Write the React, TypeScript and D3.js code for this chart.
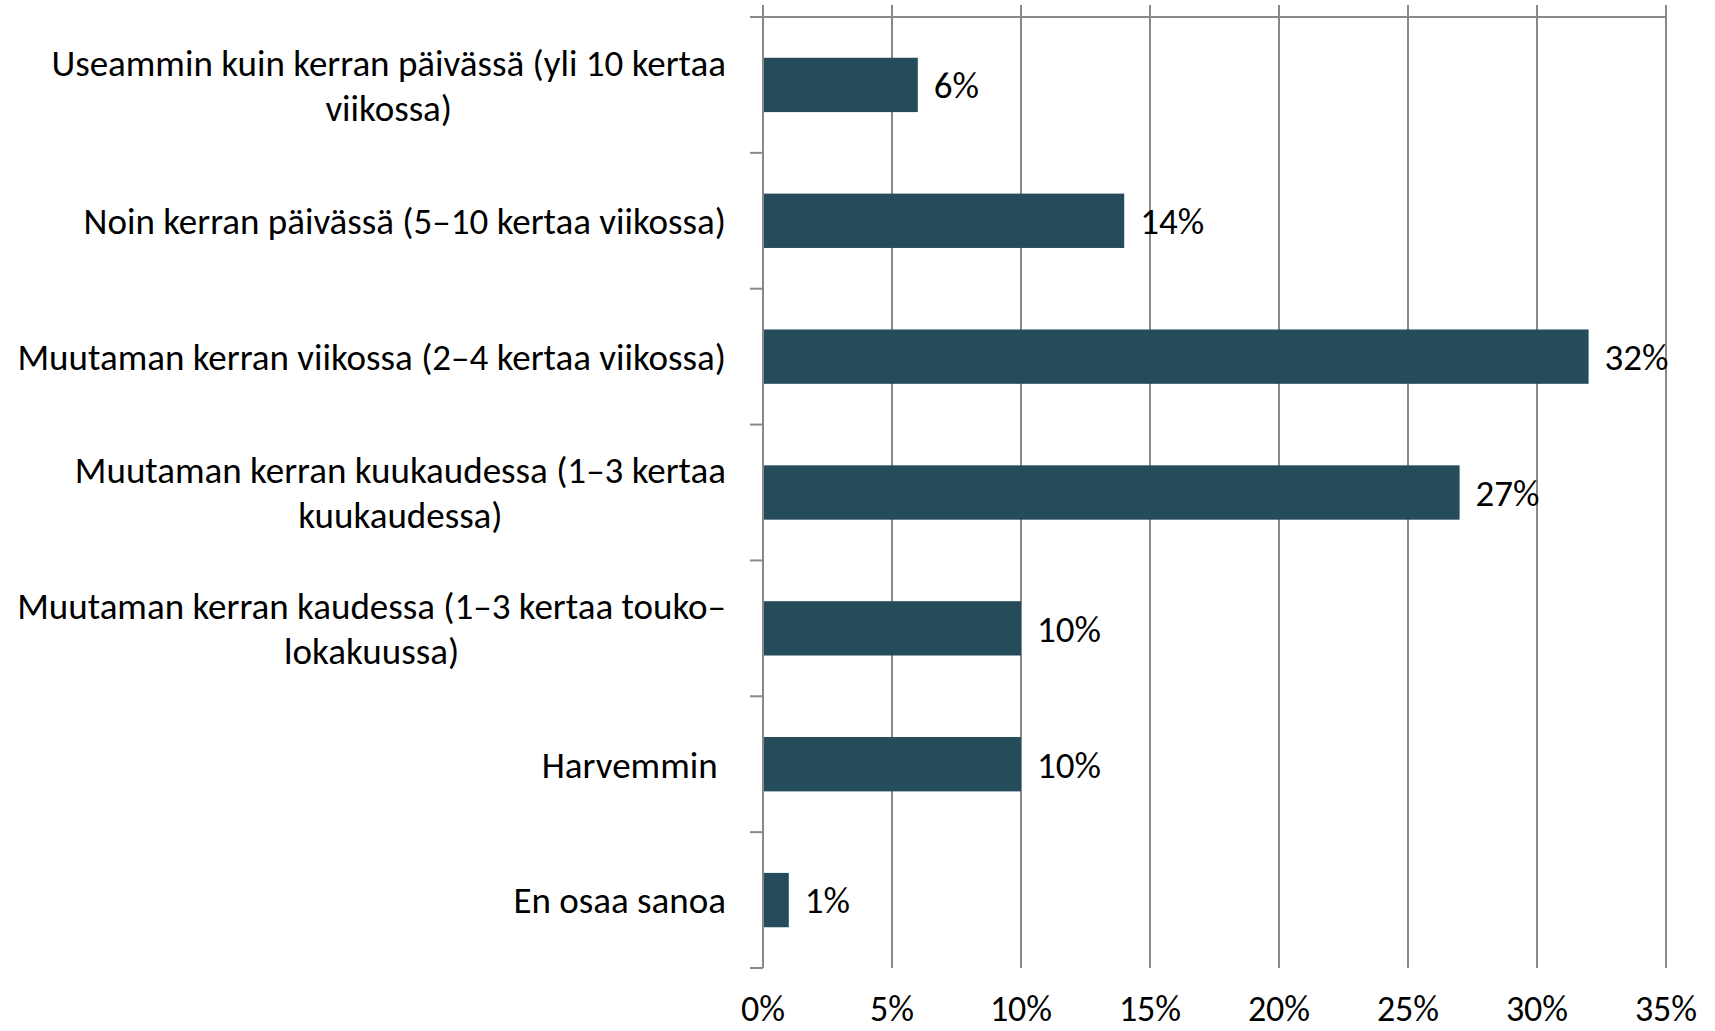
import React, { useEffect, useRef } from 'react';
import * as d3 from 'd3';

// categories, top to bottom ("\n" = line break as in the original)
const categories = [
	'Useammin kuin kerran päivässä (yli 10 kertaa\nviikossa)',
	'Noin kerran päivässä (5–10 kertaa viikossa)',
	'Muutaman kerran viikossa (2–4 kertaa viikossa)',
	'Muutaman kerran kuukaudessa (1–3 kertaa\nkuukaudessa)',
	'Muutaman kerran kaudessa (1–3 kertaa touko–\nlokakuussa)',
	'Harvemmin ',
	'En osaa sanoa',
];
const values = [6, 14, 32, 27, 10, 10, 1];
const xTicks = [0, 5, 10, 15, 20, 25, 30, 35];

const W = 1715;
const H = 1031;
const FONT = 'Carlito, Lato, sans-serif';
const FS = 37;
const BAR = '#244c5a';
const GRID = '#898989';

function App() {
	const ref = useRef<SVGSVGElement>(null);

	useEffect(() => {
		const svg = d3.select(ref.current);
		svg.selectAll('*').remove();

		const margin = { top: 17, right: 49, bottom: 63, left: 763 };

		const x = d3
			.scaleLinear()
			.domain([0, 35])
			.range([margin.left, W - margin.right]);

		const y = d3
			.scaleBand()
			.domain(categories)
			.range([margin.top, H - margin.bottom])
			.paddingInner(0.6)
			.paddingOuter(0.3);

		const step = y.step();
		const yTop = margin.top;
		const yBottom = H - margin.bottom;

		// vertical gridlines (with ticks above the axis line)
		svg
			.append('g')
			.selectAll('line')
			.data(xTicks)
			.enter()
			.append('line')
			.attr('x1', (d) => x(d))
			.attr('x2', (d) => x(d))
			.attr('y1', 5)
			.attr('y2', yBottom)
			.attr('stroke', GRID)
			.attr('stroke-width', 2);

		// value axis line along the top
		svg
			.append('line')
			.attr('x1', margin.left - 13)
			.attr('x2', x(35))
			.attr('y1', yTop)
			.attr('y2', yTop)
			.attr('stroke', GRID)
			.attr('stroke-width', 2);

		// category ticks at band boundaries
		svg
			.append('g')
			.selectAll('line')
			.data(d3.range(categories.length + 1))
			.enter()
			.append('line')
			.attr('x1', margin.left - 13)
			.attr('x2', margin.left)
			.attr('y1', (i) => yTop + i * step)
			.attr('y2', (i) => yTop + i * step)
			.attr('stroke', GRID)
			.attr('stroke-width', 2);

		// bars
		svg
			.append('g')
			.selectAll('rect')
			.data(values)
			.enter()
			.append('rect')
			.attr('x', x(0) + 1)
			.attr('y', (d, i) => y(categories[i]))
			.attr('width', (d) => x(d) - x(0) - 1)
			.attr('height', y.bandwidth())
			.attr('fill', BAR);

		// data labels
		svg
			.append('g')
			.selectAll('text')
			.data(values)
			.enter()
			.append('text')
			.attr('x', (d) => x(d) + 16)
			.attr('y', (d, i) => y(categories[i]) + y.bandwidth() / 2)
			.attr('dy', '0.36em')
			.attr('font-family', FONT)
			.attr('font-size', FS)
			.attr('fill', '#000')
			.text((d) => `${d}%`);

		// x tick labels
		svg
			.append('g')
			.selectAll('text')
			.data(xTicks)
			.enter()
			.append('text')
			.attr('x', (d) => x(d))
			.attr('y', 1021)
			.attr('text-anchor', 'middle')
			.attr('font-family', FONT)
			.attr('font-size', 36)
			.attr('fill', '#000')
			.text((d) => `${d}%`);

		// category labels, lines centred on each other, block right aligned
		const labelRight = 726;
		const lineH = 45;
		categories.forEach((c, i) => {
			const lines = c.split('\n');
			const cy = y(c) + y.bandwidth() / 2;
			const g = svg.append('g');
			const texts = lines.map((ln, k) =>
				g
					.append('text')
					.attr('y', cy + (k - (lines.length - 1) / 2) * lineH)
					.attr('dy', '0.36em')
					.attr('font-family', FONT)
					.attr('font-size', FS)
					.attr('fill', '#000')
					.style('white-space', 'pre')
					.attr('text-anchor', 'middle')
					.text(ln)
			);
			const widths = texts.map((t) => (t.node() as SVGTextElement).getComputedTextLength());
			const maxW = d3.max(widths) || 0;
			texts.forEach((t) => t.attr('x', labelRight - maxW / 2));
		});
	}, []);

	return (
		<svg
			ref={ref}
			width={W}
			height={H}
			style={{ position: 'absolute', left: 0, top: 0, background: '#fff' }}
		></svg>
	);
}

export default App;
